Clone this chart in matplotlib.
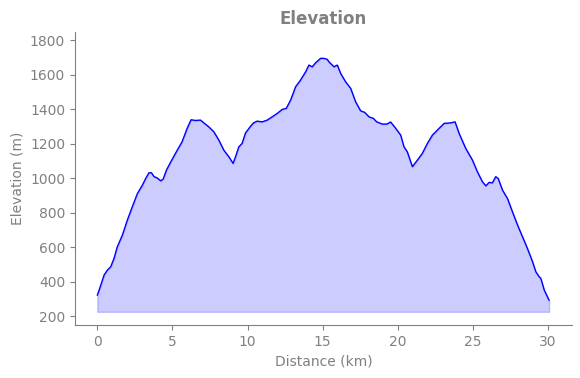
import matplotlib
matplotlib.use('Agg')
import matplotlib.pyplot as plt

# distance (km) and elevation (m)
distance = [0.0, 0.16, 0.45, 0.67, 0.89, 1.11, 1.33, 1.67, 2.0, 2.33, 2.67, 3.0, 3.22,
            3.44, 3.6, 3.78, 3.96, 4.22, 4.38, 4.6, 4.89, 5.2, 5.64, 5.98, 6.24, 6.53,
            6.87, 7.09, 7.42, 7.76, 8.09, 8.42, 8.76, 9.04, 9.2, 9.42, 9.64, 9.87, 10.2,
            10.4, 10.64, 10.98, 11.31, 11.64, 11.98, 12.31, 12.58, 12.87, 13.2, 13.53,
            13.87, 14.09, 14.31, 14.53, 14.87, 15.09, 15.31, 15.42, 15.76, 15.98, 16.2,
            16.53, 16.87, 17.2, 17.53, 17.8, 18.09, 18.38, 18.6, 18.98, 19.27, 19.53,
            19.87, 20.2, 20.42, 20.64, 20.98, 21.31, 21.64, 21.98, 22.31, 22.64, 23.09,
            23.53, 23.82, 24.09, 24.53, 24.98, 25.31, 25.64, 25.87, 26.09, 26.31, 26.53,
            26.69, 26.98, 27.31, 27.64, 27.98, 28.31, 28.64, 28.98, 29.2, 29.42, 29.53,
            29.76, 30.02, 30.08]
elevation = [322, 361, 438, 467, 486, 534, 602, 670, 757, 834, 911, 959, 998,
             1031, 1031, 1008, 1002, 984, 994, 1046, 1094, 1143, 1210, 1288, 1338, 1334,
             1336, 1320, 1297, 1268, 1220, 1162, 1123, 1085, 1123, 1181, 1201, 1262, 1300,
             1320, 1330, 1326, 1336, 1355, 1375, 1398, 1404, 1452, 1529, 1568,
             1616, 1655, 1645, 1668, 1694, 1694, 1688, 1674, 1645, 1655, 1607,
             1558, 1520, 1442, 1390, 1381, 1355, 1346, 1326, 1313, 1313, 1325,
             1288, 1249, 1181, 1152, 1066, 1104, 1143, 1201, 1249, 1278, 1317,
             1320, 1326, 1259, 1172, 1104, 1036, 979, 955, 975, 973, 1008,
             998, 930, 882, 805, 728, 660, 592, 515, 457, 428, 419,
             351, 303, 292]
base = 225

grey = '#808080'

fig, ax = plt.subplots(figsize=(5.8, 3.78), dpi=100)
fig.subplots_adjust(left=0.129, right=0.986, bottom=0.14, top=0.915)

ax.fill_between(distance, elevation, base, color='blue', alpha=0.2)
ax.plot(distance, elevation, color='blue', linewidth=1)

ax.set_xlim(-1.5, 31.6)
ax.set_ylim(148, 1846)
ax.set_yticks(range(200, 1801, 200))

ax.set_title('Elevation', color=grey, fontsize=12, fontweight='bold')
ax.set_xlabel('Distance (km)', color=grey)
ax.set_ylabel('Elevation (m)', color=grey)

ax.spines['top'].set_visible(False)
ax.spines['right'].set_visible(False)
ax.spines['left'].set_color(grey)
ax.spines['bottom'].set_color(grey)
ax.tick_params(colors=grey)

fig.savefig('out.png', dpi=100)
